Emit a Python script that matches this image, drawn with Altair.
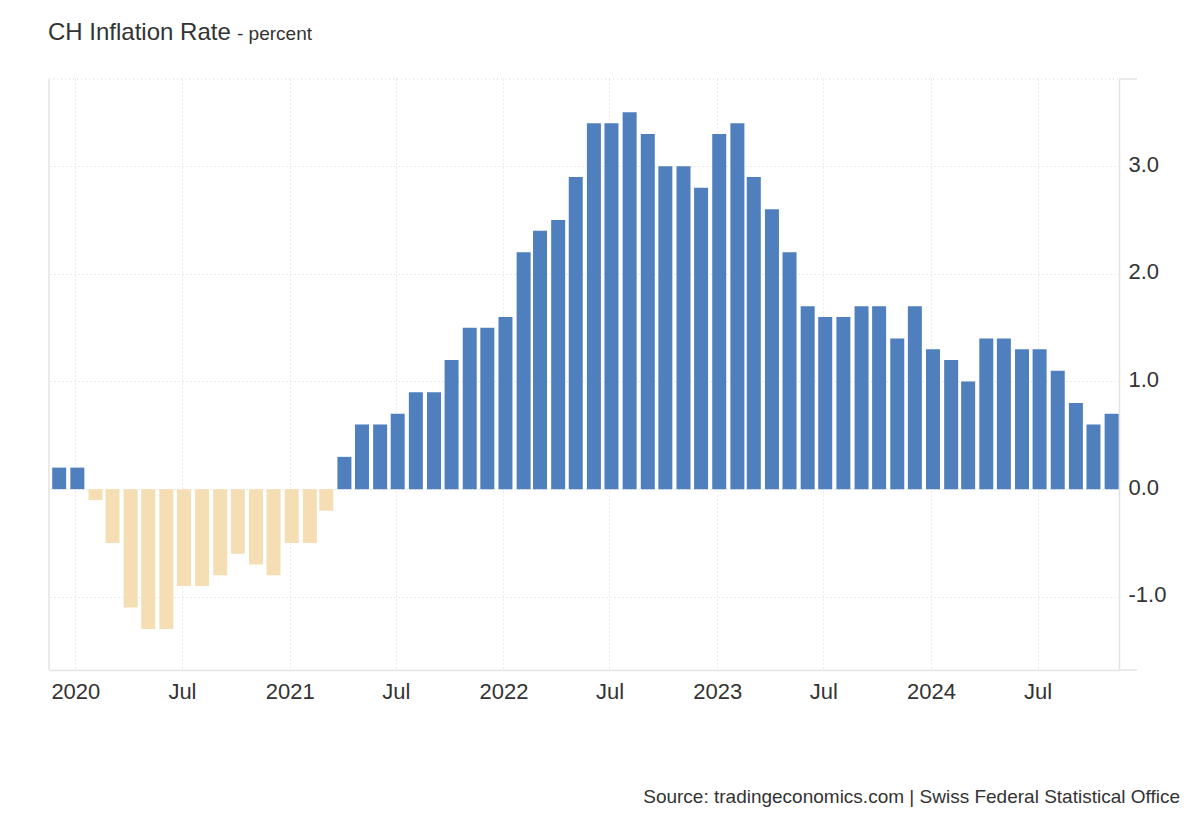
import altair as alt
import pandas as pd

# Monthly CH inflation rate (YoY %), Dec 2019 .. Nov 2024
months = [d.strftime("%Y-%m-%d") for d in pd.date_range("2019-12-01", periods=60, freq="MS")]
values = [
    0.2,
    0.2, -0.1, -0.5, -1.1, -1.3, -1.3, -0.9, -0.9, -0.8, -0.6, -0.7, -0.8,
    -0.5, -0.5, -0.2, 0.3, 0.6, 0.6, 0.7, 0.9, 0.9, 1.2, 1.5, 1.5,
    1.6, 2.2, 2.4, 2.5, 2.9, 3.4, 3.4, 3.5, 3.3, 3.0, 3.0, 2.8,
    3.3, 3.4, 2.9, 2.6, 2.2, 1.7, 1.6, 1.6, 1.7, 1.7, 1.4, 1.7,
    1.3, 1.2, 1.0, 1.4, 1.4, 1.3, 1.3, 1.1, 0.8, 0.6, 0.7,
]
y_ticks = [-1.0, 0.0, 1.0, 2.0, 3.0]
x_tick_years = [2020, 2021, 2022, 2023, 2024]

df = pd.DataFrame({"date": months, "value": values})

W, H = 1070, 591
FONT = "Liberation Sans"
GRID = "#d6d6d6"
LINE = "#e3e3e3"

x_ticks = []
for yr in x_tick_years:
    x_ticks.append(alt.DateTime(year=yr, month=1, date=1, utc=True))
    x_ticks.append(alt.DateTime(year=yr, month=7, date=1, utc=True))

x_scale = alt.Scale(
    type="utc",
    padding=0,
    domain=[alt.DateTime(year=2019, month=11, date=17, utc=True),
            alt.DateTime(year=2024, month=11, date=17, utc=True)],
)
y_scale = alt.Scale(domain=[-1.68, 3.81], nice=False, zero=False, padding=0)

bars = alt.Chart(df).mark_bar(width=14, xOffset=2).encode(
    x=alt.X("date:T", scale=x_scale, title=None,
            axis=alt.Axis(values=x_ticks, ticks=False, grid=True,
                          gridDash=[1, 3], gridColor=GRID,
                          domain=True, domainColor=LINE, domainWidth=1.5,
                          labelExpr="utcFormat(datum.value, '%m') == '01' ? utcFormat(datum.value, '%Y') : 'Jul'",
                          labelFont=FONT, labelFontSize=22, labelColor="#333333",
                          labelPadding=11)),
    y=alt.Y("value:Q", scale=y_scale, title=None,
            axis=alt.Axis(orient="right", values=y_ticks, ticks=False,
                          labelExpr="(datum.value < 0 ? '-' : '') + format(abs(datum.value), '.1f')",
                          grid=True, gridDash=[1, 3], gridColor=GRID,
                          domain=True, domainColor=LINE, domainWidth=1.5,
                          labelFont=FONT, labelFontSize=22, labelColor="#333333",
                          labelPadding=9, labelOffset=-2)),
    color=alt.condition("datum.value < 0", alt.value("#f5deb3"), alt.value("#4f7fbd")),
)

one = alt.Data(values=[{"k": 1}])

left_line = alt.Chart(one).mark_rule(color=LINE, strokeWidth=1.5).encode(
    x=alt.value(0), y=alt.value(0), y2=alt.value(H))
top_line = alt.Chart(one).mark_rule(color=GRID, strokeDash=[1, 3]).encode(
    x=alt.value(0), x2=alt.value(W), y=alt.value(0))
top_ext = alt.Chart(one).mark_rule(color=LINE, strokeWidth=1.5).encode(
    x=alt.value(W), x2=alt.value(W + 18), y=alt.value(0))
bot_ext = alt.Chart(one).mark_rule(color=LINE, strokeWidth=1.5).encode(
    x=alt.value(W), x2=alt.value(W + 18), y=alt.value(H))

title1 = alt.Chart(one).mark_text(align="left", baseline="alphabetic", font=FONT,
                                  fontSize=24, color="#333333").encode(
    x=alt.value(-1), y=alt.value(-39), text=alt.value("CH Inflation Rate"))
title2 = alt.Chart(one).mark_text(align="left", baseline="alphabetic", font=FONT,
                                  fontSize=19, color="#333333").encode(
    x=alt.value(188), y=alt.value(-39), text=alt.value("- percent"))
source = alt.Chart(one).mark_text(align="right", baseline="alphabetic", font=FONT,
                                  fontSize=19, color="#333333").encode(
    x=alt.value(1131), y=alt.value(724),
    text=alt.value("Source: tradingeconomics.com | Swiss Federal Statistical Office"))

chart = alt.layer(
    top_line, bars, left_line, top_ext, bot_ext, title1, title2, source
).properties(
    width=W, height=H,
    autosize=alt.AutoSizeParams(type="none"),
    padding={"left": 41, "top": 71, "right": 70, "bottom": 140},
    background="white",
).configure_view(stroke=None)

chart.save("out.html", embed_options={"renderer": "svg", "actions": False})
